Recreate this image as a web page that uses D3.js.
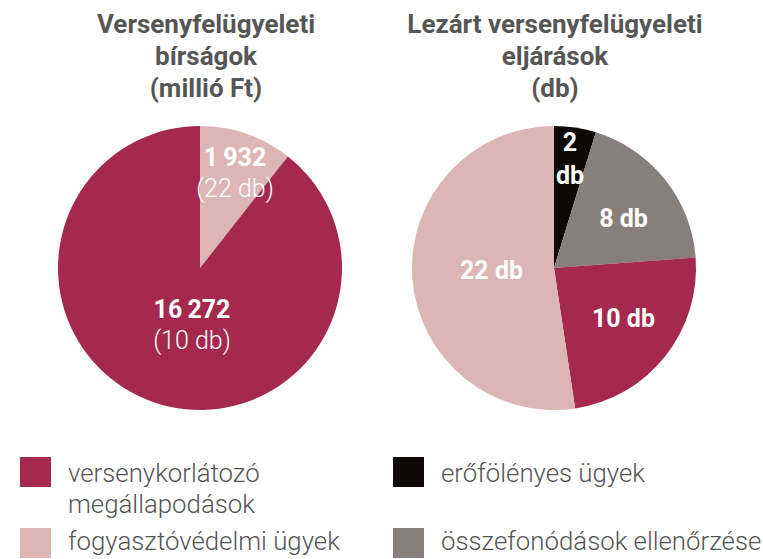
<!DOCTYPE html>
<html><head><meta charset="utf-8">
<script src="https://cdn.jsdelivr.net/npm/d3@7"></script>
<style>body{margin:0;background:#fff}svg{display:block}</style>
</head><body>
<svg id="c" width="763" height="559"></svg>
<script>
const leftCategories = ["fogyasztóvédelmi ügyek", "versenykorlátozó megállapodások"];
const leftValues = [1932, 16272];
const leftCounts = [22, 10];
const leftLabels = ["1\u2009932", "16\u2009272"];
const rightCategories = ["erőfölényes ügyek", "összefonódások ellenőrzése", "versenykorlátozó megállapodások", "fogyasztóvédelmi ügyek"];
const rightValues = [2, 8, 10, 22];
const legendItems = ["versenykorlátozó megállapodások", "erőfölényes ügyek", "fogyasztóvédelmi ügyek", "összefonódások ellenőrzése"];
const titles = [["Versenyfelügyeleti", "bírságok", "(millió Ft)"], ["Lezárt versenyfelügyeleti", "eljárások", "(db)"]];

const colors = {
  "versenykorlátozó megállapodások": "#A5284F",
  "fogyasztóvédelmi ügyek": "#DCB5B5",
  "erőfölényes ügyek": "#0E0907",
  "összefonódások ellenőrzése": "#877F7C"
};
const svg = d3.select("#c");
const font = "Roboto, 'Noto Sans', sans-serif";
const R = 142;
const pie = d3.pie().sort(null).value(d => d.v);
const arc = d3.arc().innerRadius(0).outerRadius(R);

// titles
[206, 555].forEach((cx, i) => {
  titles[i].forEach((t, j) => {
    svg.append("text").attr("x", cx).attr("y", 33 + j * 32)
      .attr("text-anchor", "middle").attr("font-family", font).attr("font-weight", 700)
      .attr("font-size", 26).attr("fill", "#565656").text(t);
  });
});

// left pie
const lg = svg.append("g").attr("transform", "translate(200,268)");
const lData = pie(leftCategories.map((c, i) => ({c, v: leftValues[i], n: leftCounts[i], l: leftLabels[i]})));
lg.selectAll("path").data(lData).join("path").attr("d", arc).attr("fill", d => colors[d.data.c]);
const lPos = [[35, -102], [-8, 50]];
lData.forEach((d, i) => {
  const t = lg.append("text").attr("text-anchor", "middle").attr("font-family", font).attr("fill", "#fff").attr("font-size", 25);
  t.append("tspan").attr("x", lPos[i][0]).attr("y", lPos[i][1]).attr("font-weight", 700).text(d.data.l);
  t.append("tspan").attr("x", lPos[i][0]).attr("y", lPos[i][1] + 31).attr("font-weight", 300).text("(" + d.data.n + " db)");
});

// right pie
const rg = svg.append("g").attr("transform", "translate(554,268)");
const rData = pie(rightCategories.map((c, i) => ({c, v: rightValues[i]})));
rg.selectAll("path").data(rData).join("path").attr("d", arc).attr("fill", d => colors[d.data.c]);
const rPos = [[16, -117], [69.5, -41], [69.5, 59], [-62.5, 11]];
rData.forEach((d, i) => {
  const t = rg.append("text").attr("text-anchor", "middle").attr("font-family", font).attr("fill", "#fff")
    .attr("font-size", 25).attr("font-weight", 700);
  if (i === 0) {
    t.append("tspan").attr("x", rPos[i][0]).attr("y", rPos[i][1]).text(d.data.v);
    t.append("tspan").attr("x", rPos[i][0]).attr("y", rPos[i][1] + 33).text("db");
  } else {
    t.attr("x", rPos[i][0]).attr("y", rPos[i][1]).text(d.data.v + " db");
  }
});

// legend
const lx = [20, 393], ly = [457, 528];
legendItems.forEach((c, i) => {
  const x = lx[i % 2], y = ly[Math.floor(i / 2)];
  svg.append("rect").attr("x", x).attr("y", y).attr("width", 31).attr("height", 30).attr("fill", colors[c]);
  const t = svg.append("text").attr("font-family", font).attr("font-weight", 300).attr("font-size", 25.8)
    .attr("fill", "#555");
  const tx = x + 48, ty = y + (i < 2 ? 25 : 22);
  if (c === "versenykorlátozó megállapodások") {
    t.append("tspan").attr("x", tx).attr("y", ty).text("versenykorlátozó");
    t.append("tspan").attr("x", tx).attr("y", ty + 31).text("megállapodások");
  } else {
    t.attr("x", tx).attr("y", ty).text(c);
  }
});
</script>
</body></html>
